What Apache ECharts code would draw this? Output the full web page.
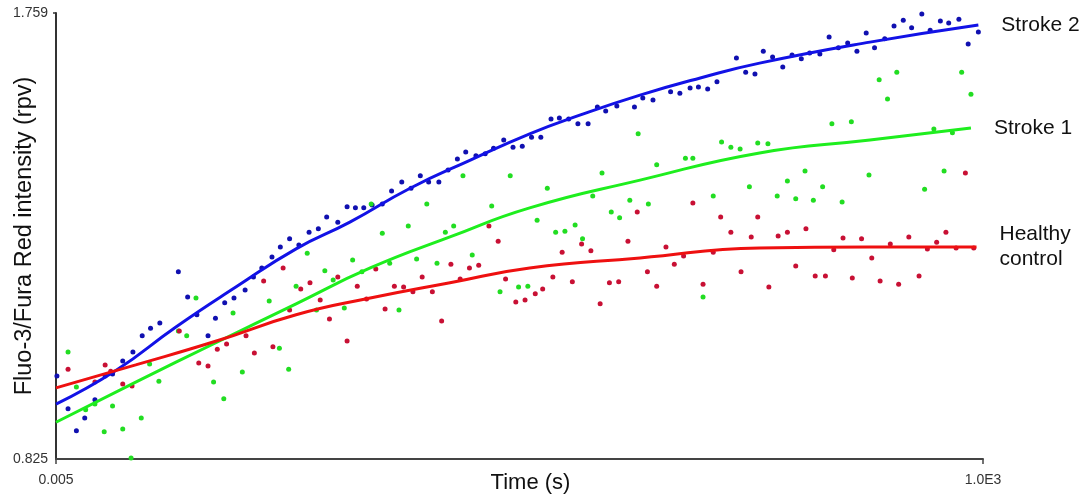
<!DOCTYPE html>
<html>
<head>
<meta charset="utf-8">
<script src="https://cdn.jsdelivr.net/npm/echarts@6/dist/echarts.min.js"></script>
<style>
  html, body { margin: 0; padding: 0; background: #ffffff; }
  #chart { width: 1086px; height: 497px; }
</style>
</head>
<body>
<div id="chart"></div>
<script>
// ---- data (time in s, intensity in rpv) ----
const seriesNames = ['Stroke 2', 'Stroke 1', 'Healthy\ncontrol'];
const xTickValues = [0.005, 1000];
const xTickLabels = ['0.005', '1.0E3'];
const yTickValues = [0.825, 1.759];
const yTickLabels = ['0.825', '1.759'];

const stroke2Points = [[1,0.999],[13,0.930],[22,0.884],[31,0.911],[42,0.949],[53,0.999],[61,1.003],[72,1.030],[83,1.049],[93,1.083],[102,1.099],[112,1.110],[132,1.217],[142,1.164],[152,1.127],[164,1.083],[172,1.120],[182,1.152],[192,1.162],[204,1.179],[213,1.206],[222,1.225],[233,1.248],[242,1.269],[252,1.286],[262,1.273],[273,1.300],[283,1.307],[292,1.332],[304,1.321],[314,1.353],[323,1.351],[332,1.351],[341,1.357],[352,1.359],[362,1.386],[373,1.405],[383,1.392],[393,1.418],[402,1.405],[413,1.405],[423,1.430],[433,1.453],[442,1.468],[453,1.460],[463,1.464],[472,1.476],[483,1.493],[493,1.478],[503,1.480],[513,1.499],[523,1.499],[534,1.537],[543,1.539],[553,1.537],[563,1.527],[574,1.527],[584,1.562],[593,1.554],[605,1.564],[624,1.562],[633,1.581],[644,1.577],[663,1.594],[673,1.591],[684,1.602],[693,1.604],[703,1.600],[713,1.615],[734,1.665],[744,1.635],[754,1.631],[763,1.679],[773,1.667],[784,1.646],[794,1.671],[804,1.663],[813,1.675],[824,1.673],[834,1.709],[844,1.686],[854,1.696],[864,1.679],[874,1.717],[883,1.686],[894,1.705],[904,1.732],[914,1.744],[923,1.728],[934,1.757],[943,1.723],[954,1.742],[963,1.738],[974,1.746],[984,1.694],[995,1.719]];

const stroke1Points = [[13,1.049],[22,0.976],[32,0.928],[42,0.940],[52,0.882],[61,0.936],[72,0.888],[81,0.827],[92,0.911],[101,1.024],[111,0.988],[132,1.093],[141,1.083],[151,1.162],[170,0.986],[181,0.951],[191,1.131],[201,1.007],[230,1.156],[241,1.057],[251,1.013],[259,1.187],[271,1.256],[281,1.137],[290,1.219],[299,1.200],[311,1.141],[320,1.242],[330,1.217],[340,1.359],[352,1.298],[360,1.235],[370,1.137],[380,1.313],[389,1.244],[400,1.359],[411,1.235],[420,1.300],[429,1.313],[439,1.418],[449,1.252],[470,1.355],[479,1.175],[490,1.418],[499,1.185],[509,1.187],[519,1.325],[530,1.392],[539,1.300],[549,1.302],[560,1.315],[568,1.286],[579,1.376],[589,1.424],[599,1.342],[608,1.330],[619,1.367],[628,1.506],[639,1.359],[648,1.441],[679,1.455],[687,1.455],[698,1.164],[709,1.376],[718,1.489],[728,1.478],[738,1.474],[748,1.395],[757,1.487],[768,1.485],[778,1.376],[789,1.407],[798,1.370],[808,1.428],[817,1.367],[827,1.395],[837,1.527],[848,1.363],[858,1.531],[877,1.420],[888,1.619],[897,1.579],[907,1.635],[937,1.390],[947,1.516],[958,1.428],[967,1.508],[977,1.635],[987,1.589]];

const healthyPoints = [[13,1.013],[42,0.986],[53,1.022],[59,1.009],[72,0.982],[82,0.978],[133,1.093],[154,1.026],[164,1.020],[174,1.055],[184,1.066],[205,1.083],[214,1.047],[224,1.198],[234,1.060],[245,1.225],[252,1.137],[264,1.181],[274,1.194],[285,1.158],[295,1.118],[304,1.206],[314,1.072],[325,1.187],[335,1.160],[345,1.223],[355,1.139],[365,1.187],[375,1.185],[385,1.175],[395,1.206],[406,1.175],[416,1.114],[426,1.233],[436,1.202],[446,1.225],[456,1.231],[467,1.313],[477,1.281],[485,1.202],[496,1.154],[506,1.158],[517,1.171],[525,1.181],[536,1.206],[546,1.258],[557,1.196],[567,1.275],[577,1.261],[587,1.150],[597,1.194],[607,1.196],[617,1.281],[627,1.342],[638,1.217],[648,1.187],[658,1.269],[667,1.233],[677,1.250],[687,1.361],[698,1.191],[709,1.258],[717,1.332],[728,1.300],[739,1.217],[750,1.290],[757,1.332],[769,1.185],[779,1.292],[789,1.300],[798,1.229],[809,1.307],[819,1.208],[830,1.208],[839,1.263],[849,1.288],[859,1.204],[869,1.286],[880,1.246],[889,1.198],[900,1.275],[909,1.191],[920,1.290],[931,1.208],[940,1.265],[950,1.279],[960,1.300],[971,1.267],[981,1.424],[990,1.267]];

const stroke2Fit = [[0,0.940],[65,1.011],[129,1.101],[194,1.185],[259,1.265],[317,1.321],[382,1.392],[447,1.451],[511,1.506],[565,1.545],[630,1.587],[695,1.623],[759,1.654],[878,1.698],[995,1.734]];
const stroke1Fit = [[0,0.902],[86,0.986],[173,1.069],[259,1.150],[339,1.225],[425,1.290],[511,1.351],[630,1.409],[759,1.466],[878,1.493],[987,1.518]];
const healthyFit = [[0,0.974],[86,1.022],[173,1.072],[259,1.127],[339,1.162],[425,1.194],[511,1.225],[630,1.246],[759,1.267],[878,1.269],[993,1.269]];

const pointColors = ['#1010b0', '#22dd22', '#c81034'];
const lineColors = ['#1212e6', '#1eee1e', '#ee1010'];

const FONT = 'Liberation Sans, Arial, sans-serif';

function scatter(name, data, color) {
  return {
    name: name, type: 'scatter', data: data,
    symbol: 'circle', symbolSize: 5,
    itemStyle: { color: color, opacity: 1 },
    z: 2, silent: true
  };
}
function fit(name, data, color) {
  return {
    name: name, type: 'line', data: data, smooth: true,
    showSymbol: false, symbol: 'none',
    lineStyle: { color: color, width: 3 },
    itemStyle: { color: color },
    z: 3, silent: true,
    endLabel: {
      show: true, formatter: '{a}', distance: 23,
      fontFamily: FONT, fontSize: 21, color: '#111', lineHeight: 25, align: 'left'
    }
  };
}

const chart = echarts.init(document.getElementById('chart'), null, { renderer: 'canvas' });
chart.setOption({
  animation: false,
  backgroundColor: '#ffffff',
  grid: { left: 56, right: 103, top: 13, bottom: 38, containLabel: false, outerBoundsMode: 'none' },
  xAxis: {
    type: 'value', min: 0.005, max: 1000,
    name: 'Time (s)', nameLocation: 'middle', nameGap: 13, nameMoveOverlap: false,
    nameTextStyle: { fontFamily: FONT, fontSize: 22, color: '#111', padding: [0, 0, 0, 22], verticalAlign: 'top' },
    axisLine: { show: true, lineStyle: { color: '#444', width: 2 } },
    axisTick: { show: true, customValues: xTickValues, length: 5, lineStyle: { color: '#444', width: 1.5 } },
    axisLabel: {
      customValues: xTickValues, margin: 14,
      fontFamily: FONT, fontSize: 14, color: '#333',
      formatter: function (v) { const i = xTickValues.indexOf(v); return i >= 0 ? xTickLabels[i] : ''; }
    },
    splitLine: { show: false }
  },
  yAxis: {
    type: 'value', min: 0.825, max: 1.759,
    name: 'Fluo-3/Fura Red intensity (rpv)', nameLocation: 'middle', nameGap: 19, nameMoveOverlap: false,
    nameTextStyle: { fontFamily: FONT, fontSize: 23.5, color: '#111', verticalAlign: 'bottom' },
    axisLine: { show: true, lineStyle: { color: '#333', width: 2 } },
    axisTick: { show: true, customValues: [yTickValues[1]], length: 3, lineStyle: { color: '#333', width: 1.5 } },
    axisLabel: {
      customValues: yTickValues, margin: 8,
      fontFamily: FONT, fontSize: 14, color: '#333',
      formatter: function (v) { const i = yTickValues.indexOf(v); return i >= 0 ? yTickLabels[i] : ''; }
    },
    splitLine: { show: false }
  },
  series: [
    scatter(seriesNames[0] + ' data', stroke2Points, pointColors[0]),
    scatter(seriesNames[1] + ' data', stroke1Points, pointColors[1]),
    scatter(seriesNames[2] + ' data', healthyPoints, pointColors[2]),
    fit(seriesNames[0], stroke2Fit, lineColors[0]),
    fit(seriesNames[1], stroke1Fit, lineColors[1]),
    fit(seriesNames[2], healthyFit, lineColors[2])
  ]
});
</script>
</body>
</html>
